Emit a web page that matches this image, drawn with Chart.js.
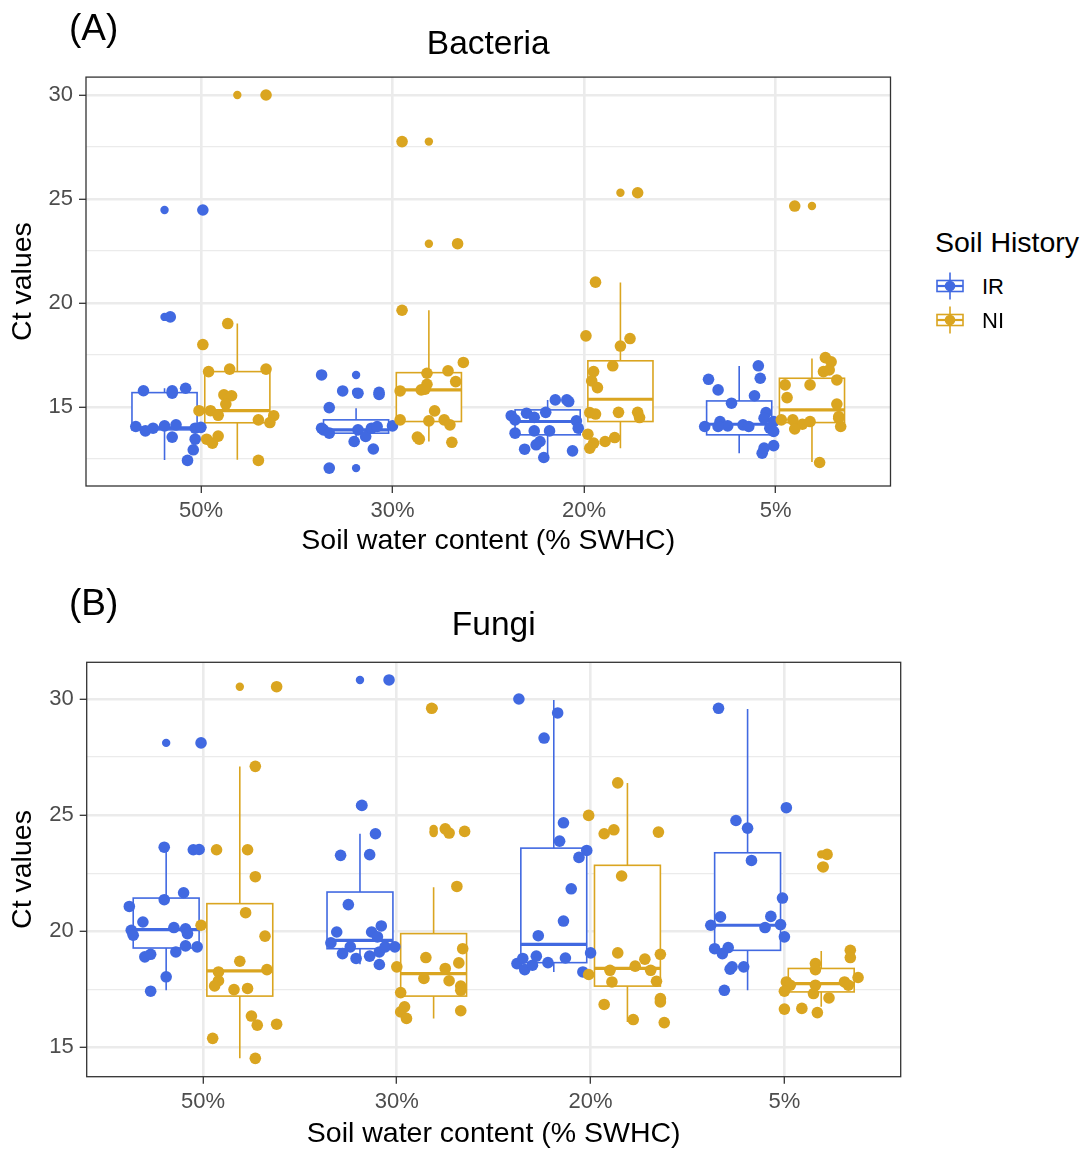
<!DOCTYPE html>
<html><head><meta charset="utf-8">
<script src="https://cdn.jsdelivr.net/npm/chart.js@4.4.1/dist/chart.umd.min.js"></script>
<style>
html,body{margin:0;padding:0;background:#fff;}
body{width:1088px;height:1150px;position:relative;overflow:hidden;font-family:"Liberation Sans",Arial,Helvetica,sans-serif;}
canvas{position:absolute;left:0;}
#cA{top:0;}
#cB{top:575px;}
.txt{position:absolute;line-height:1;white-space:nowrap;color:#000;}
</style></head>
<body>
<canvas id="cA" width="905" height="575"></canvas>
<canvas id="cB" width="915" height="575"></canvas>
<div class="txt" style="left:69px;top:9px;font-size:37px;">(A)</div>
<div class="txt" style="left:69px;top:584px;font-size:37px;">(B)</div>
<div id="legend"></div>
<script>
// ---------------- DATA ----------------
const categories = ['50%', '30%', '20%', '5%'];
const groups = ['IR', 'NI'];
const legendTitle = 'Soil History';
const xTitle = 'Soil water content (% SWHC)';
const yTitle = 'Ct values';
const panelTitles = ['Bacteria', 'Fungi'];
const yMajorTicks = [15, 20, 25, 30];
const yMinorTicks = [12.5, 17.5, 22.5, 27.5];
const bacYRange = [11.2, 30.86];
const funYRange = [13.74, 31.58];

// box stats per category: [lower whisker, Q1, median, Q3, upper whisker]
const bacIRBox = [[12.45, 13.9, 14.0, 15.69, 15.9], [13.1, 13.74, 13.9, 14.38, 14.94], [12.7, 13.66, 14.3, 14.86, 15.34], [12.78, 13.66, 14.17, 15.29, 16.97]];
const bacNIBox = [[12.46, 14.24, 14.82, 16.7, 19.01], [13.34, 14.3, 15.82, 16.65, 19.65], [13.02, 14.3, 15.37, 17.22, 20.98], [12.35, 14.25, 14.86, 16.38, 17.33]];
const funIRBox = [[17.46, 19.28, 20.07, 21.43, 23.62], [18.58, 19.25, 19.61, 21.69, 24.2], [18.25, 18.65, 19.44, 23.58, 29.96], [17.46, 19.18, 20.26, 23.38, 29.57]];
const funNIBox = [[14.53, 17.21, 18.3, 21.19, 27.09], [16.25, 17.21, 18.18, 19.9, 21.9], [16.1, 17.64, 18.4, 22.84, 26.38], [16.75, 17.39, 17.75, 18.4, 19.15]];

// boxplot outliers per category
const bacIROut = [[24.47, 19.33], [16.54, 15.72, 12.06], [], []];
const bacNIOut = [[30.0], [27.76, 22.85], [25.3], [24.66]];
const funIROut = [[28.11], [30.82, 25.42], [], []];
const funNIOut = [[30.53], [29.6, 24.41, 24.3, 24.23], [], [23.31, 22.77]];

// jittered observations: values per category
const bacIRVals = [
  [24.47, 19.33, 15.78, 15.78, 15.66, 15.9, 14.06, 13.85, 13.98, 14.09, 14.14, 13.98, 14.02, 13.55, 13.45, 12.94, 12.43],
  [16.54, 15.77, 15.66, 15.7, 15.6, 14.97, 13.98, 13.9, 13.74, 13.9, 13.58, 13.98, 14.06, 14.09, 13.34, 12.98, 12.06],
  [15.34, 15.34, 15.26, 14.74, 14.7, 14.5, 14.58, 14.38, 14.33, 13.98, 13.74, 13.85, 13.85, 13.34, 13.18, 12.97, 12.89, 12.57],
  [16.98, 16.33, 16.38, 15.82, 15.54, 15.18, 14.73, 14.46, 14.06, 14.3, 14.09, 14.06, 14.14, 14.06, 13.98, 14.3, 13.82, 13.14, 12.78, 13.02]
];
// horizontal jitter per observation (category units, relative to category)
const bacIRJit = [
  [0.01, -0.16, -0.30, -0.15, -0.15, -0.08, -0.34, -0.29, -0.25, -0.19, -0.13, -0.03, 0.00, -0.15, -0.03, -0.04, -0.07],
  [-0.37, -0.26, -0.18, -0.07, -0.07, -0.33, -0.37, -0.36, -0.33, -0.18, -0.14, -0.11, -0.08, 0.00, -0.20, -0.10, -0.33],
  [-0.15, -0.09, -0.08, -0.20, -0.30, -0.26, -0.38, -0.36, -0.04, -0.03, -0.36, -0.26, -0.18, -0.23, -0.25, -0.31, -0.06, -0.21],
  [-0.09, -0.35, -0.08, -0.30, -0.11, -0.23, -0.05, -0.06, -0.37, -0.29, -0.25, -0.30, -0.17, -0.14, -0.03, -0.01, -0.01, -0.01, -0.07, -0.06]
];
const bacNIVals = [
  [30.0, 19.01, 18.0, 16.7, 16.82, 16.82, 15.58, 15.54, 15.14, 14.82, 14.82, 14.6, 14.38, 14.58, 14.25, 13.45, 13.26, 13.6, 12.43],
  [27.76, 22.85, 19.65, 17.14, 16.62, 16.74, 16.22, 16.09, 15.86, 15.82, 15.77, 14.81, 14.38, 14.33, 14.38, 14.14, 13.55, 13.45, 13.3],
  [25.3, 21.0, 18.42, 18.29, 17.93, 16.98, 16.7, 16.25, 15.93, 14.73, 14.66, 14.74, 14.74, 14.49, 13.69, 13.26, 13.02, 13.34, 13.53],
  [24.66, 17.37, 17.17, 16.7, 16.78, 16.06, 16.06, 16.3, 15.45, 15.14, 14.38, 14.38, 14.17, 14.3, 13.94, 14.54, 14.46, 14.06, 12.33]
];
const bacNIJit = [
  [0.34, 0.14, 0.01, 0.04, 0.15, 0.34, 0.12, 0.16, 0.13, -0.01, 0.05, 0.09, 0.30, 0.38, 0.36, 0.03, 0.06, 0.09, 0.30],
  [0.05, 0.34, 0.05, 0.37, 0.18, 0.29, 0.33, 0.18, 0.17, 0.15, 0.04, 0.22, 0.04, 0.19, 0.27, 0.30, 0.13, 0.14, 0.31],
  [0.28, 0.06, 0.01, 0.24, 0.19, 0.15, 0.05, 0.04, 0.07, 0.03, 0.06, 0.18, 0.28, 0.29, 0.02, 0.05, 0.03, 0.11, 0.16],
  [0.10, 0.26, 0.29, 0.25, 0.28, 0.05, 0.18, 0.32, 0.06, 0.32, 0.03, 0.09, 0.14, 0.18, 0.10, 0.33, 0.33, 0.34, 0.23]
];
const funIRVals = [
  [28.11, 23.62, 23.51, 23.52, 21.66, 21.36, 21.07, 20.4, 20.04, 19.83, 20.16, 20.11, 19.9, 19.33, 19.37, 19.11, 18.9, 19.01, 18.04, 17.42],
  [30.82, 25.42, 24.2, 23.27, 23.3, 21.15, 19.97, 19.97, 19.76, 20.23, 19.5, 19.33, 19.04, 18.83, 18.93, 19.11, 19.33, 19.33, 18.57],
  [30.0, 29.4, 28.32, 24.67, 23.88, 23.48, 23.18, 21.83, 20.44, 19.81, 18.61, 18.83, 18.35, 18.54, 18.93, 18.65, 18.85, 19.07, 18.25],
  [29.6, 25.32, 24.77, 24.44, 23.05, 21.43, 20.62, 20.64, 20.26, 20.29, 20.16, 19.76, 19.25, 19.3, 19.04, 18.47, 18.37, 18.47, 17.46]
];
const funIRJit = [
  [-0.01, -0.20, -0.05, -0.02, -0.10, -0.20, -0.38, -0.31, -0.37, -0.36, -0.15, -0.09, -0.08, -0.03, -0.09, -0.14, -0.30, -0.27, -0.19, -0.27],
  [-0.04, -0.18, -0.11, -0.29, -0.14, -0.25, -0.31, -0.13, -0.10, -0.08, -0.34, -0.24, -0.28, -0.21, -0.14, -0.09, -0.06, -0.01, -0.09],
  [-0.37, -0.17, -0.24, -0.14, -0.16, -0.02, -0.06, -0.10, -0.14, -0.27, -0.38, -0.35, -0.34, -0.30, -0.28, -0.22, -0.13, 0.00, -0.04],
  [-0.34, 0.01, -0.25, -0.19, -0.17, -0.01, -0.33, -0.07, -0.38, -0.02, -0.10, 0.00, -0.36, -0.29, -0.32, -0.27, -0.28, -0.21, -0.31]
];
const funNIVals = [
  [30.53, 27.1, 23.51, 23.51, 22.35, 20.26, 20.8, 19.79, 18.71, 18.25, 17.87, 17.65, 18.35, 17.49, 17.54, 16.35, 15.96, 16.0, 15.39, 14.53],
  [29.6, 24.41, 24.23, 24.3, 21.93, 18.87, 18.47, 18.4, 18.64, 19.25, 17.97, 17.87, 17.64, 17.46, 17.36, 16.75, 16.53, 16.25, 16.58],
  [26.39, 24.99, 24.2, 24.37, 24.27, 22.38, 19.07, 19.01, 18.8, 18.32, 18.5, 18.32, 18.14, 17.82, 17.85, 17.1, 16.96, 16.85, 16.2, 16.07],
  [23.31, 22.77, 19.18, 18.87, 18.61, 18.35, 18.01, 17.82, 17.68, 17.68, 17.32, 17.82, 17.68, 17.42, 17.13, 16.65, 16.68, 16.5]
];
const funNIJit = [
  [0.38, 0.27, 0.07, 0.23, 0.27, -0.01, 0.22, 0.32, 0.19, 0.08, 0.08, 0.06, 0.33, 0.16, 0.23, 0.25, 0.28, 0.38, 0.05, 0.27],
  [0.18, 0.25, 0.27, 0.35, 0.31, 0.15, 0.00, 0.25, 0.32, 0.34, 0.14, 0.27, 0.33, 0.33, 0.02, 0.04, 0.02, 0.05, 0.33],
  [0.14, -0.01, 0.07, 0.12, 0.35, 0.16, 0.14, 0.36, 0.28, 0.10, 0.23, 0.31, -0.01, 0.11, 0.34, 0.36, 0.36, 0.07, 0.22, 0.38],
  [0.22, 0.20, 0.34, 0.34, 0.16, 0.16, 0.38, 0.01, 0.03, 0.16, 0.15, 0.31, 0.33, 0.00, 0.23, 0.00, 0.09, 0.17]
];

// ---------------- STYLE ----------------
const FONT = '"Liberation Sans", Arial, Helvetica, sans-serif';
const COLORS = {IR: '#4169E1', NI: '#DAA520'};
const DODGE = 0.19;      // half dodge offset of the two boxes
const BOXW = 0.34;       // box width (category units)
const GRID = '#EBEBEB';
Chart.defaults.font.family = FONT;

function jitterPoints(vals, jit) {
  const out = [];
  vals.forEach((arr, i) => arr.forEach((v, j) => out.push({x: i + 1 + jit[i][j], y: v})));
  return out;
}
function outlierPoints(outs, off) {
  const out = [];
  outs.forEach((arr, i) => arr.forEach(v => out.push({x: i + 1 + off, y: v})));
  return out;
}

function boxPlugin(irBox, niBox) {
  return {
    id: 'boxes',
    beforeDatasetsDraw(chart) {
      const {ctx, chartArea, scales: {x, y}} = chart;
      ctx.save();
      ctx.beginPath();
      ctx.rect(chartArea.left, chartArea.top, chartArea.width, chartArea.height);
      ctx.clip();
      [[irBox, COLORS.IR, -DODGE], [niBox, COLORS.NI, DODGE]].forEach(([stats, color, off]) => {
        stats.forEach((s, i) => {
          const cx = x.getPixelForValue(i + 1 + off);
          const l = x.getPixelForValue(i + 1 + off - BOXW / 2);
          const r = x.getPixelForValue(i + 1 + off + BOXW / 2);
          const [lo, q1, md, q3, hi] = s.map(v => y.getPixelForValue(v));
          ctx.strokeStyle = color;
          ctx.lineWidth = 1.6;
          ctx.beginPath();
          ctx.moveTo(cx, hi); ctx.lineTo(cx, q3);
          ctx.moveTo(cx, q1); ctx.lineTo(cx, lo);
          ctx.stroke();
          ctx.fillStyle = '#ffffff';
          ctx.fillRect(l, q3, r - l, q1 - q3);
          ctx.strokeRect(l, q3, r - l, q1 - q3);
          ctx.lineWidth = 3.2;
          ctx.beginPath();
          ctx.moveTo(l, md); ctx.lineTo(r, md);
          ctx.stroke();
        });
      });
      ctx.restore();
    },
    afterDraw(chart) {
      const {ctx, chartArea: a} = chart;
      ctx.save();
      ctx.strokeStyle = '#333333';
      ctx.lineWidth = 1.3;
      ctx.strokeRect(a.left, a.top, a.width, a.height);
      ctx.restore();
    }
  };
}

function makeChart(id, p) {
  const majorSet = new Set(yMajorTicks);
  const yTicks = yMajorTicks.concat(yMinorTicks).filter(v => v >= p.yRange[0] && v <= p.yRange[1]).sort((a, b) => a - b);
  return new Chart(document.getElementById(id), {
    type: 'scatter',
    data: {
      datasets: [
        {label: 'IR', data: jitterPoints(p.irVals, p.irJit), backgroundColor: COLORS.IR, borderWidth: 0, pointRadius: 5.8, pointHoverRadius: 5.8, order: 2},
        {label: 'NI', data: jitterPoints(p.niVals, p.niJit), backgroundColor: COLORS.NI, borderWidth: 0, pointRadius: 5.8, pointHoverRadius: 5.8, order: 1},
        {label: 'IR outliers', data: outlierPoints(p.irOut, -DODGE), backgroundColor: COLORS.IR, borderWidth: 0, pointRadius: 4.2, order: 4},
        {label: 'NI outliers', data: outlierPoints(p.niOut, DODGE), backgroundColor: COLORS.NI, borderWidth: 0, pointRadius: 4.2, order: 3}
      ]
    },
    options: {
      responsive: false,
      animation: false,
      events: [],
      layout: {padding: {left: 0, top: 0, right: p.padRight, bottom: 0}},
      plugins: {
        legend: {display: false},
        tooltip: {enabled: false},
        title: {
          display: true, text: p.title, fullSize: false, color: '#000',
          font: {size: 33.5, weight: 'normal', family: FONT, lineHeight: 1.2},
          padding: {top: p.titlePadTop, bottom: p.titlePadBottom}
        }
      },
      scales: {
        x: {
          type: 'linear', min: 0.4, max: 4.6,
          afterBuildTicks: s => { s.ticks = categories.map((c, i) => ({value: i + 1})); },
          afterFit: s => { s.height = p.xAxisH; },
          ticks: {autoSkip: false, maxRotation: 0, color: '#4D4D4D', font: {size: 22}, padding: 5,
                  callback: v => categories[Math.round(v) - 1]},
          grid: {color: GRID, lineWidth: 2.6, tickLength: 7, tickColor: '#333333', tickWidth: 1.3},
          border: {display: false},
          title: {display: true, text: xTitle, color: '#000', font: {size: 28.5, lineHeight: 1.0},
                  padding: {top: 0, bottom: p.xTitlePadBottom}}
        },
        y: {
          type: 'linear', min: p.yRange[0], max: p.yRange[1],
          afterBuildTicks: s => { s.ticks = yTicks.map(v => ({value: v})); },
          afterFit: s => { s.width = p.yAxisW; },
          ticks: {autoSkip: false, color: '#4D4D4D', font: {size: 22}, padding: 6,
                  callback: v => majorSet.has(v) ? String(v) : ''},
          grid: {color: GRID, lineWidth: c => majorSet.has(c.tick && c.tick.value) ? 2.6 : 1.3,
                 tickLength: 7, tickWidth: 1.3,
                 tickColor: c => majorSet.has(c.tick && c.tick.value) ? '#333333' : 'rgba(0,0,0,0)'},
          border: {display: false},
          title: {display: true, text: yTitle, color: '#000', font: {size: 28.5, lineHeight: 1.2},
                  padding: {top: 6.4, bottom: 0}}
        }
      }
    },
    plugins: [boxPlugin(p.irBox, p.niBox)]
  });
}

makeChart('cA', {
  title: panelTitles[0], yRange: bacYRange,
  irVals: bacIRVals, irJit: bacIRJit, niVals: bacNIVals, niJit: bacNIJit,
  irOut: bacIROut, niOut: bacNIOut, irBox: bacIRBox, niBox: bacNIBox,
  padRight: 14.5, titlePadTop: 24.5, titlePadBottom: 12.4, xAxisH: 89, yAxisW: 86, xTitlePadBottom: 19.3
});
makeChart('cB', {
  title: panelTitles[1], yRange: funYRange,
  irVals: funIRVals, irJit: funIRJit, niVals: funNIVals, niJit: funNIJit,
  irOut: funIROut, niOut: funNIOut, irBox: funIRBox, niBox: funNIBox,
  padRight: 14.3, titlePadTop: 30.5, titlePadBottom: 16.6, xAxisH: 73.3, yAxisW: 86.7, xTitlePadBottom: 1.6
});

// ---------------- LEGEND (HTML) ----------------
(function buildLegend() {
  const host = document.getElementById('legend');
  const t = document.createElement('div');
  t.className = 'txt';
  t.style.cssText = 'left:935px;top:228px;font-size:28.5px;';
  t.textContent = legendTitle;
  host.appendChild(t);
  const centers = [286, 320];
  groups.forEach((g, k) => {
    const cy = centers[k];
    const c = document.createElement('canvas');
    c.width = 30; c.height = 36;
    c.style.cssText = 'position:absolute;left:935px;top:' + (cy - 18) + 'px;';
    const ctx = c.getContext('2d');
    const col = COLORS[g];
    ctx.strokeStyle = col; ctx.lineWidth = 1.6;
    ctx.beginPath(); ctx.moveTo(15, 4.5); ctx.lineTo(15, 31.5); ctx.stroke();
    ctx.fillStyle = '#fff'; ctx.fillRect(2, 12.5, 26, 11); ctx.strokeRect(2, 12.5, 26, 11);
    ctx.lineWidth = 2.2; ctx.beginPath(); ctx.moveTo(2, 18); ctx.lineTo(28, 18); ctx.stroke();
    ctx.fillStyle = col; ctx.beginPath(); ctx.arc(15, 18, 5.3, 0, Math.PI * 2); ctx.fill();
    host.appendChild(c);
    const l = document.createElement('div');
    l.className = 'txt';
    l.style.cssText = 'left:982px;top:' + (cy - 10) + 'px;font-size:22px;';
    l.textContent = g;
    host.appendChild(l);
  });
})();
</script>
</body></html>
